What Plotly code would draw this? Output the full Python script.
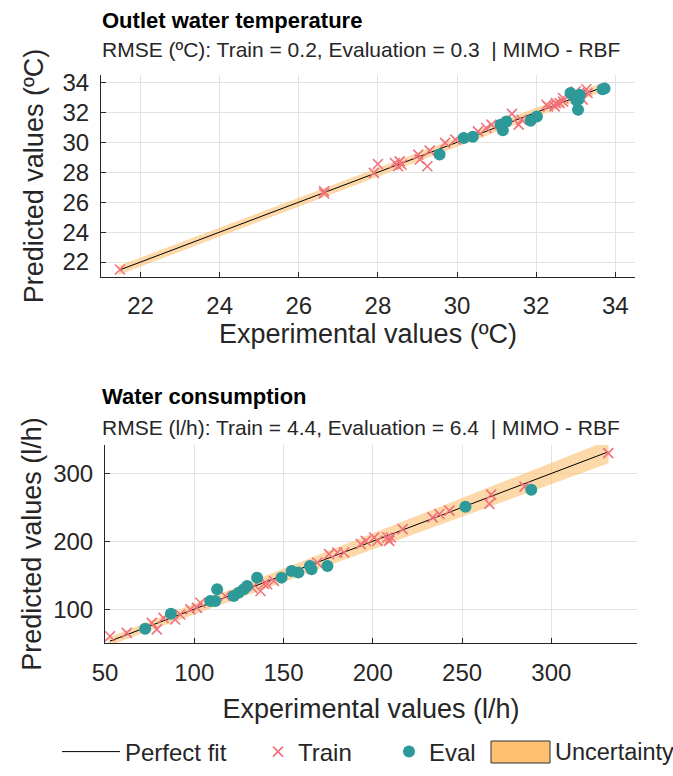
import plotly.graph_objects as go

# ---------------- data ----------------
# Outlet water temperature (ºC)
temp_train_x = [21.48, 26.64, 26.64, 27.90, 28.00, 28.43, 28.55, 28.51, 28.60, 29.02, 29.06, 29.25,
                29.31, 29.70, 29.96, 30.53, 30.74, 30.87, 31.39, 31.56, 31.63, 32.26, 32.30, 32.47,
                32.50, 32.59, 32.68, 32.68, 33.18, 33.27, 33.30, 33.00]
temp_train_y = [21.50, 26.73, 26.58, 27.96, 28.55, 28.62, 28.73, 28.40, 28.50, 29.18, 28.85, 28.40,
                29.45, 29.96, 30.18, 30.73, 30.96, 31.18, 31.90, 31.18, 31.51, 32.51, 32.40, 32.40,
                32.62, 32.62, 32.73, 32.96, 32.85, 33.55, 33.30, 33.40]
temp_eval_x = [29.56, 30.17, 30.40, 31.10, 31.16, 31.25, 31.86, 32.02, 32.87, 32.95, 33.10, 33.02,
               33.08, 33.06, 33.73, 33.68]
temp_eval_y = [29.18, 30.29, 30.38, 31.18, 30.80, 31.40, 31.45, 31.73, 33.29, 33.10, 33.18, 32.80,
               32.90, 32.18, 33.60, 33.55]
temp_band_x = [21.45, 33.78]
temp_band_half = [0.30, 0.30]

# Water consumption (l/h)
flow_train_x = [52.8, 62.2, 76.2, 79.0, 82.8, 89.3, 92.1, 97.8, 101.5, 103.4, 117.4, 132.4, 137.1,
                140.8, 139.0, 144.6, 168.9, 175.5, 180.1, 183.9, 193.3, 196.1, 200.8, 202.6, 208.2,
                209.2, 210.1, 216.7, 233.5, 237.3, 242.9, 265.3, 266.3, 285.0, 331.9]
flow_train_y = [60.0, 64.9, 79.7, 70.0, 87.1, 84.7, 92.1, 99.5, 101.9, 109.3, 119.3, 131.6, 126.7,
                136.6, 137.0, 141.5, 168.6, 181.0, 183.4, 183.4, 195.9, 200.7, 205.6, 200.7, 205.6,
                200.7, 205.6, 218.0, 235.3, 240.3, 245.2, 255.1, 268.9, 280.7, 330.0]
flow_eval_x = [72.5, 86.9, 109.0, 111.8, 112.8, 122.1, 124.9, 127.7, 129.6, 135.2, 148.9, 154.5,
               158.3, 164.8, 165.7, 174.6, 251.9, 288.8]
flow_eval_y = [70.9, 93.0, 111.9, 111.9, 129.2, 119.3, 124.1, 129.2, 134.1, 146.4, 146.4, 156.3,
               153.8, 163.7, 158.8, 163.7, 251.1, 275.9]
flow_band_x = [52.0, 332.0]
flow_band_half = [6.0, 17.0]

titles = ["Outlet water temperature", "Water consumption"]
subtitles = ["RMSE (ºC): Train = 0.2, Evaluation = 0.3  | MIMO - RBF",
             "RMSE (l/h): Train = 4.4, Evaluation = 6.4  | MIMO - RBF"]
x_titles = ["Experimental values (ºC)", "Experimental values (l/h)"]
y_titles = ["Predicted values (ºC)", "Predicted values (l/h)"]
legend_names = ["Perfect fit", "Train", "Eval", "Uncertainty"]

# ---------------- style ----------------
W, H = 673, 776
FONT = "Liberation Sans, Arial, sans-serif"
TXT = "#262626"
TEAL = "#2E9999"
PINK = "#F0707C"
BAND = "rgba(252,190,110,0.6)"
LEG_BAND = "#FDBF70"
GRID = "#e3e3e3"


def px_x(p):
    return p / W


def px_y(p):
    return 1 - p / H


fig = go.Figure()

panels = [
    dict(tx=temp_train_x, ty=temp_train_y, ex=temp_eval_x, ey=temp_eval_y,
         bx=temp_band_x, bh=temp_band_half, xa="x", ya="y"),
    dict(tx=flow_train_x, ty=flow_train_y, ex=flow_eval_x, ey=flow_eval_y,
         bx=flow_band_x, bh=flow_band_half, xa="x2", ya="y2"),
]

for i, p in enumerate(panels):
    bx, bh = p["bx"], p["bh"]
    poly_x = [bx[0], bx[1], bx[1], bx[0], bx[0]]
    poly_y = [bx[0] - bh[0], bx[1] - bh[1], bx[1] + bh[1], bx[0] + bh[0], bx[0] - bh[0]]
    fig.add_trace(go.Scatter(x=poly_x, y=poly_y, fill="toself", fillcolor=BAND,
                             line=dict(width=0), mode="lines", hoverinfo="skip",
                             showlegend=False, xaxis=p["xa"], yaxis=p["ya"]))
    allx = p["tx"] + p["ex"]
    lo, hi = min(allx), max(allx)
    fig.add_trace(go.Scatter(x=[lo, hi], y=[lo, hi], mode="lines",
                             line=dict(color="black", width=1), name=legend_names[0],
                             legend="legend", showlegend=(i == 1),
                             xaxis=p["xa"], yaxis=p["ya"]))
    fig.add_trace(go.Scatter(x=p["tx"], y=p["ty"], mode="markers", name=legend_names[1],
                             marker=dict(symbol="x-thin", size=10, color=PINK,
                                         line=dict(color=PINK, width=1.6)),
                             legend="legend2", showlegend=(i == 1),
                             xaxis=p["xa"], yaxis=p["ya"]))
    fig.add_trace(go.Scatter(x=p["ex"], y=p["ey"], mode="markers", name=legend_names[2],
                             marker=dict(symbol="circle", size=12, color=TEAL),
                             legend="legend3", showlegend=(i == 1),
                             xaxis=p["xa"], yaxis=p["ya"]))

axis_common = dict(showgrid=True, gridcolor=GRID, gridwidth=1, zeroline=False,
                   showline=True, linecolor=TXT, linewidth=1, ticks="inside",
                   ticklen=5, tickcolor=TXT, automargin=False,
                   tickfont=dict(size=24, color=TXT, family=FONT),
                   title_font=dict(size=27, color=TXT, family=FONT))

fig.update_layout(
    width=W, height=H,
    margin=dict(l=0, r=0, t=0, b=0),
    paper_bgcolor="white", plot_bgcolor="white",
    font=dict(family=FONT, color=TXT),
    xaxis=dict(axis_common, domain=[px_x(101), px_x(635)], range=[21, 34.5], dtick=2,
               anchor="y", ticklabelstandoff=7, title=dict(text=x_titles[0], standoff=2)),
    yaxis=dict(axis_common, domain=[px_y(277), px_y(75)], range=[21, 34.5], dtick=2,
               anchor="x", ticklabelstandoff=6, title=dict(text=y_titles[0], standoff=11)),
    xaxis2=dict(axis_common, domain=[px_x(105), px_x(637)], range=[50, 348], dtick=50,
                anchor="y2", ticklabelstandoff=8, title=dict(text=x_titles[1], standoff=14)),
    yaxis2=dict(axis_common, domain=[px_y(643), px_y(445)], range=[50, 342], dtick=100,
                anchor="x2", ticklabelstandoff=6, title=dict(text=y_titles[1], standoff=3)),
    showlegend=True,
)

leg_common = dict(orientation="h", yanchor="middle", y=px_y(752), xanchor="left",
                  font=dict(size=24, color=TXT, family=FONT), bgcolor="rgba(0,0,0,0)")
fig.update_layout(
    legend=dict(leg_common, x=px_x(57), itemwidth=58),
    legend2=dict(leg_common, x=px_x(258)),
    legend3=dict(leg_common, x=px_x(389)),
)

# uncertainty legend patch (drawn as a shape) + its label
fig.add_shape(type="rect", xref="paper", yref="paper",
              x0=px_x(491), x1=px_x(550), y0=px_y(763), y1=px_y(741),
              fillcolor=LEG_BAND, line=dict(color="#333333", width=1))

ann = []
for t, st, yt, ys, xl in [(titles[0], subtitles[0], 20, 50, 100),
                          (titles[1], subtitles[1], 397, 427, 100)]:
    ann.append(dict(text="<b>" + t + "</b>", x=px_x(xl), y=px_y(yt), xref="paper", yref="paper",
                    xanchor="left", yanchor="middle", showarrow=False,
                    font=dict(size=22, color="black", family=FONT)))
    ann.append(dict(text=st, x=px_x(xl), y=px_y(ys), xref="paper", yref="paper",
                    xanchor="left", yanchor="middle", showarrow=False,
                    font=dict(size=21, color=TXT, family=FONT)))
ann.append(dict(text=legend_names[3], x=px_x(553), y=px_y(752), xref="paper", yref="paper",
                xanchor="left", yanchor="middle", showarrow=False,
                font=dict(size=23.5, color=TXT, family=FONT)))
fig.update_layout(annotations=ann)

# the page body has a default 8px margin; remove it so the figure fills the window exactly
fig.write_html("out.html", config={"displayModeBar": False},
               post_script="document.body.style.margin='0';document.body.style.overflow='hidden';")
